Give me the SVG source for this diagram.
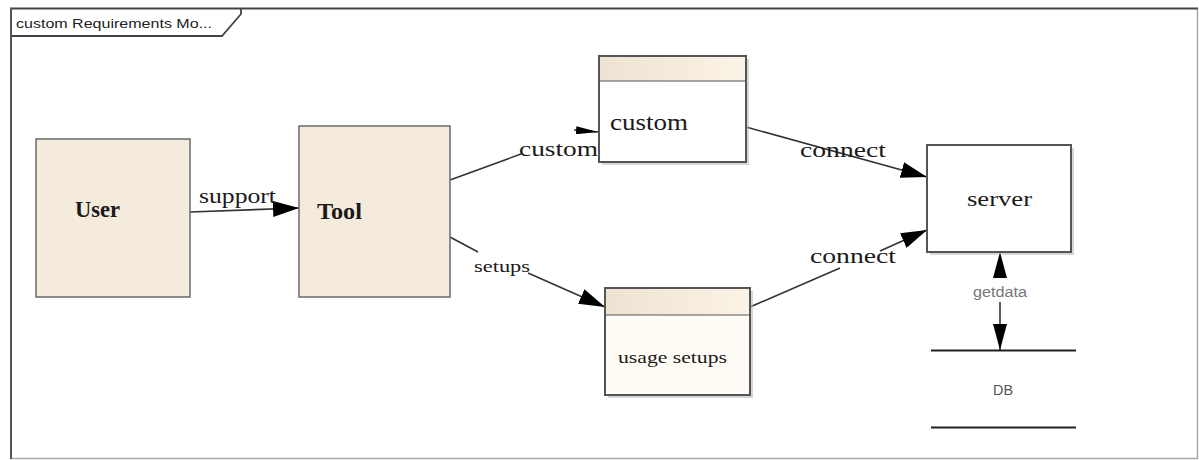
<svg xmlns="http://www.w3.org/2000/svg" width="1199" height="460" viewBox="0 0 1199 460">
<style>
.serif{font-family:"Liberation Serif","Times New Roman",serif;fill:#1a1a1a}
.sans{font-family:"Liberation Sans",Arial,sans-serif}
.box{fill:#f5ebdc;stroke:#6a6a6a;stroke-width:1.5}
.edge{stroke:#333;stroke-width:1.6;fill:none}
.shadow{fill:#bbb;opacity:0.6}
</style>
<defs>
<linearGradient id="hdr" x1="0" x2="1" y1="0" y2="0">
<stop offset="0" stop-color="#eee3d2"/>
<stop offset="1" stop-color="#fbf3e6"/>
</linearGradient>
<marker id="ah" viewBox="0 0 26 16" refX="26" refY="8" markerWidth="26" markerHeight="16" markerUnits="userSpaceOnUse" orient="auto">
<path d="M0,0 L26,8 L0,16 Z" fill="#000"/>
</marker>
<marker id="ahv" viewBox="0 0 26 14" refX="26" refY="7" markerWidth="26" markerHeight="14" markerUnits="userSpaceOnUse" orient="auto">
<path d="M0,0 L26,7 L0,14 Z" fill="#000"/>
</marker>
<marker id="ahs" viewBox="0 0 22 8" refX="22" refY="4" markerWidth="22" markerHeight="8" markerUnits="userSpaceOnUse" orient="auto">
<path d="M0,0 L22,4 L0,8 Z" fill="#000"/>
</marker>
</defs>
<rect width="1199" height="460" fill="#fff"/>
<g id="frame">
<line x1="1197.5" y1="8" x2="1197.5" y2="458" stroke="#aaa" stroke-width="1.5"/>
<line x1="10" y1="458.5" x2="1198" y2="458.5" stroke="#aaa" stroke-width="1.5"/>
<line x1="10" y1="8.5" x2="1198" y2="8.5" stroke="#444" stroke-width="2.2"/>
<line x1="11" y1="8" x2="11" y2="459" stroke="#555" stroke-width="2"/>
<path d="M11,36 L222,36 L241,14 L241,8" fill="none" stroke="#444" stroke-width="1.8"/>
<text class="sans" x="16" y="28" font-size="13.5" fill="#222" textLength="196" lengthAdjust="spacingAndGlyphs">custom Requirements Mo...</text>
</g>
<g id="connectors">
<g id="e-support">
<line class="edge" x1="190" y1="212" x2="299" y2="208" marker-end="url(#ah)"/>
<text class="serif" x="199" y="203" font-size="20" textLength="77" lengthAdjust="spacingAndGlyphs">support</text>
</g>
<g id="e-custom">
<polyline class="edge" points="450,180 521,154"/>
<line class="edge" x1="574" y1="130" x2="598" y2="132" marker-end="url(#ahs)"/>
<text class="serif" x="519" y="156" font-size="22" textLength="79" lengthAdjust="spacingAndGlyphs">custom</text>
</g>
<g id="e-setups">
<line class="edge" x1="450" y1="237" x2="478" y2="252"/>
<line class="edge" x1="528" y1="273" x2="605" y2="307" marker-end="url(#ah)"/>
<text class="serif" x="474" y="272" font-size="16" textLength="56" lengthAdjust="spacingAndGlyphs">setups</text>
</g>
<g id="e-connect1">
<line class="edge" x1="746" y1="127" x2="927" y2="177" marker-end="url(#ah)"/>
<text class="serif" x="800" y="157" font-size="22" textLength="86" lengthAdjust="spacingAndGlyphs">connect</text>
</g>
<g id="e-connect2">
<line class="edge" x1="750" y1="307" x2="840" y2="268"/>
<line class="edge" x1="880" y1="251" x2="927" y2="230" marker-end="url(#ah)"/>
<text class="serif" x="810" y="263" font-size="22" textLength="86" lengthAdjust="spacingAndGlyphs">connect</text>
</g>
<g id="e-getdata">
<line class="edge" x1="1000" y1="278" x2="1000" y2="252" marker-end="url(#ahv)"/>
<line class="edge" x1="1000" y1="302" x2="1000" y2="350" marker-end="url(#ahv)"/>
<text class="sans" x="973" y="297" font-size="14" fill="#777" textLength="54" lengthAdjust="spacingAndGlyphs">getdata</text>
</g>
</g>
<g id="user">
<rect class="box" x="36" y="139" width="154" height="158"/>
<text class="serif" x="75" y="217" font-size="23" font-weight="bold" textLength="45" lengthAdjust="spacingAndGlyphs">User</text>
</g>
<g id="tool">
<rect class="box" x="299" y="126" width="151" height="171"/>
<text class="serif" x="317" y="219" font-size="23" font-weight="bold" textLength="45" lengthAdjust="spacingAndGlyphs">Tool</text>
</g>
<g id="custom">
<rect class="shadow" x="602" y="59" width="147" height="106"/>
<rect x="599" y="56" width="147" height="106" fill="#fff" stroke="#555" stroke-width="2"/>
<rect x="600" y="57" width="145" height="24" fill="url(#hdr)"/>
<line x1="599" y1="81" x2="746" y2="81" stroke="#555" stroke-width="1.2"/>
<text class="serif" x="610" y="130" font-size="23" textLength="78" lengthAdjust="spacingAndGlyphs">custom</text>
</g>
<g id="usage">
<rect class="shadow" x="608" y="291" width="145" height="107"/>
<rect x="605" y="288" width="145" height="107" fill="#fffcf6" stroke="#555" stroke-width="2"/>
<rect x="606" y="289" width="143" height="26" fill="url(#hdr)"/>
<line x1="605" y1="315" x2="750" y2="315" stroke="#555" stroke-width="1.2"/>
<text class="serif" x="618" y="363" font-size="17" textLength="109" lengthAdjust="spacingAndGlyphs">usage setups</text>
</g>
<g id="server">
<rect class="shadow" x="930" y="148" width="144" height="107"/>
<rect x="927" y="145" width="144" height="107" fill="#fff" stroke="#555" stroke-width="2"/>
<text class="serif" x="967" y="206" font-size="21" textLength="65" lengthAdjust="spacingAndGlyphs">server</text>
</g>
<g id="db">
<line x1="931" y1="350.5" x2="1076" y2="350.5" stroke="#222" stroke-width="2"/>
<line x1="931" y1="427.5" x2="1076" y2="427.5" stroke="#222" stroke-width="2"/>
<text class="sans" x="993" y="395" font-size="15" fill="#555" textLength="20" lengthAdjust="spacingAndGlyphs">DB</text>
</g>
</svg>
